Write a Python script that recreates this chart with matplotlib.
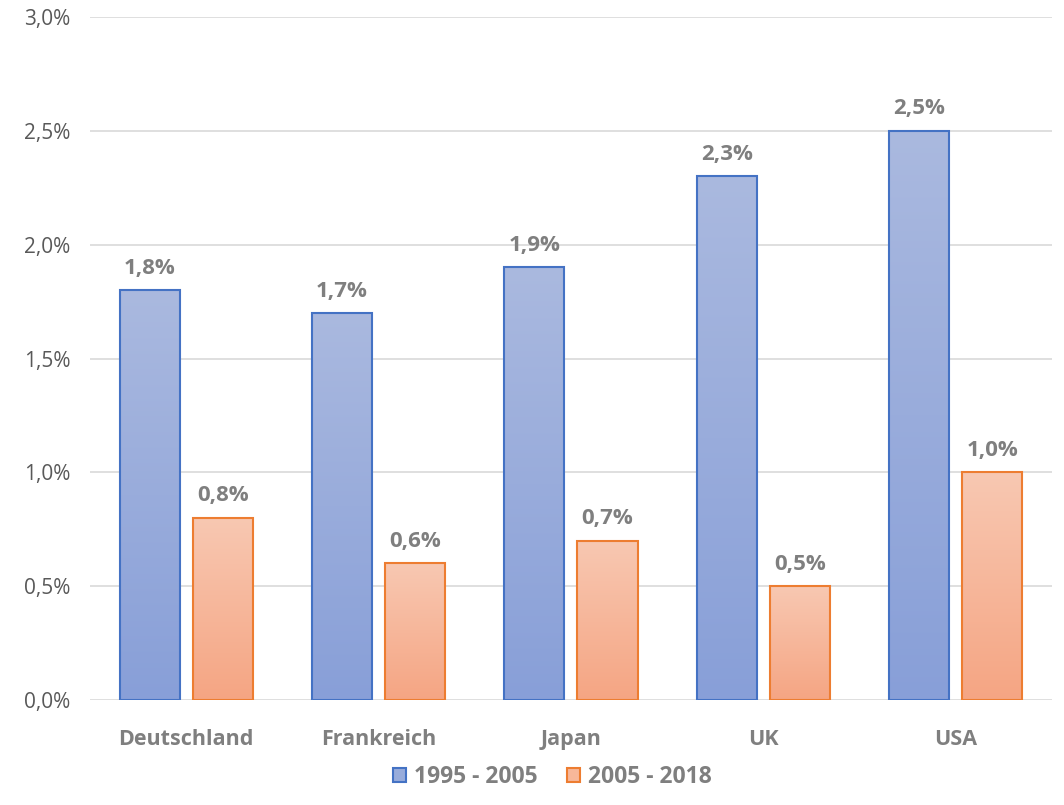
import numpy as np
import matplotlib.pyplot as plt
from matplotlib.colors import LinearSegmentedColormap
from matplotlib.patches import Patch

plt.rcParams['font.family'] = ['Open Sans', 'DejaVu Sans']

# Growth rates per country, two periods
countries = ["Deutschland", "Frankreich", "Japan", "UK", "USA"]
period_1 = [1.8, 1.7, 1.9, 2.3, 2.5]
period_2 = [0.8, 0.6, 0.7, 0.5, 1.0]
series_names = ["1995 - 2005", "2005 - 2018"]

blue_edge = "#4472C4"
orange_edge = "#ED7D31"
blue_grad = LinearSegmentedColormap.from_list("b", ["#889FD8", "#AAB9DF"])
orange_grad = LinearSegmentedColormap.from_list("o", ["#F5A583", "#F8C8B2"])

fig = plt.figure(figsize=(10.64, 8.05), dpi=100)
ax = fig.add_axes([0.0846, 0.1304, 0.904, 0.8485])

x = np.arange(len(countries))
width = 0.312
offset = 0.19
grad = np.linspace(0, 1, 256).reshape(-1, 1)


def gradient_bars(xs, vals, cmap, edge):
    bars = ax.bar(xs, vals, width, facecolor="none", edgecolor=edge,
                  linewidth=1.5, zorder=3)
    for b in bars:
        x0, y0 = b.get_x(), b.get_y()
        w, h = b.get_width(), b.get_height()
        ax.imshow(grad, cmap=cmap, origin="lower", aspect="auto",
                  extent=[x0, x0 + w, y0, y0 + h], zorder=2)
    for xi, v in zip(xs, vals):
        ax.text(xi, v + 0.05, f"{v:.1f}%".replace(".", ","), ha="center",
                va="bottom", fontsize=16, fontweight="bold", color="#7F7F7F")
    return bars


gradient_bars(x - offset, period_1, blue_grad, blue_edge)
gradient_bars(x + offset, period_2, orange_grad, orange_edge)

ax.set_xlim(-0.5, len(countries) - 0.5)
ax.set_ylim(0, 3.0)
ax.set_yticks(np.arange(0, 3.01, 0.5))
ax.set_yticklabels([f"{t:.1f}%".replace(".", ",") for t in np.arange(0, 3.01, 0.5)])
ax.set_xticks(x)
ax.set_xticklabels(countries, fontweight="bold")
ax.tick_params(axis="y", length=0, labelsize=15, labelcolor="#595959", pad=14)
ax.tick_params(axis="x", length=0, labelsize=15.5, labelcolor="#7F7F7F", pad=21)
ax.grid(axis="y", color="#D9D9D9", linewidth=1.2, zorder=0)
ax.set_axisbelow(True)
for s in ax.spines.values():
    s.set_visible(False)

handles = [Patch(facecolor="#98ACDB", edgecolor=blue_edge, linewidth=1.5),
           Patch(facecolor="#F7B79A", edgecolor=orange_edge, linewidth=1.5)]
fig.legend(handles, series_names, loc="center", bbox_to_anchor=(0.519, 0.035),
           ncol=2, frameon=False, handlelength=0.55, handleheight=0.55,
           handletextpad=0.35, columnspacing=1.3,
           prop={"family": "Open Sans", "weight": "bold", "size": 16.5},
           labelcolor="#7F7F7F")

fig.savefig("out.png", dpi=100)
